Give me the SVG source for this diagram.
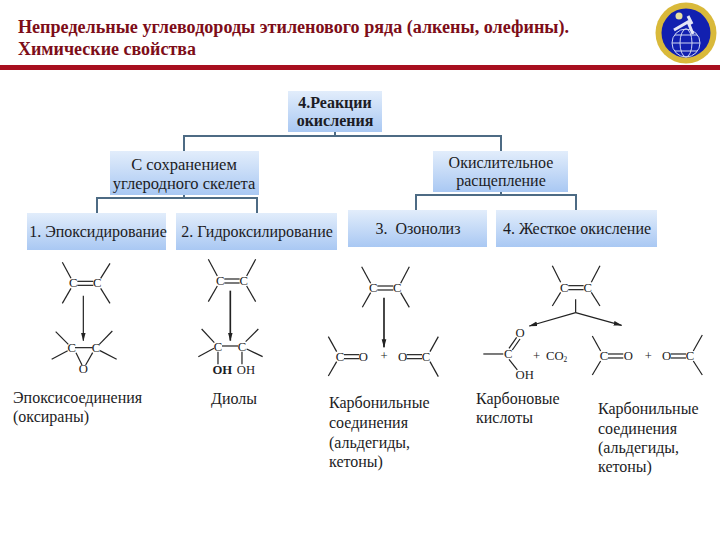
<svg xmlns="http://www.w3.org/2000/svg" width="720" height="540" viewBox="0 0 720 540">
<style>
text{font-family:"Liberation Serif","Times New Roman",serif;fill:#1c1c24}
.t{font-size:18px;font-weight:bold;fill:#7d0d18}
.b{fill:url(#g)}
.c{font-size:16px;text-anchor:middle}
.l{font-size:16px}
.m line{stroke:#222;stroke-width:3.6}
.m text{font-size:38px;text-anchor:middle}
.conn path{fill:none;stroke:#4d6b84;stroke-width:2}
</style>
<defs>
<linearGradient id="g" x1="0" y1="0" x2="0" y2="1"><stop offset="0" stop-color="#e2edfb"/><stop offset="1" stop-color="#a9c8f3"/></linearGradient>
<marker id="a" markerUnits="userSpaceOnUse" markerWidth="26" markerHeight="16" refX="24" refY="8" orient="auto"><path d="M0 1L26 8L0 15Z" fill="#222"/></marker>
</defs>
<rect width="720" height="540" fill="#fff"/>
<g id="header">
<text class="t" x="18" y="33" textLength="551" lengthAdjust="spacingAndGlyphs">Непредельные углеводороды этиленового ряда (алкены, олефины).</text>
<text class="t" x="18" y="55" textLength="178" lengthAdjust="spacingAndGlyphs">Химические свойства</text>
<rect x="0" y="65" width="720" height="5" fill="#a80f1f"/>
</g>
<g id="logo">
<circle cx="686" cy="33" r="30.500" fill="#d9b93a"/>
<circle cx="686" cy="33" r="24.500" fill="#1220b0"/>
<circle cx="686" cy="43" r="14" fill="none" stroke="#cfd6f2" stroke-width="1"/>
<ellipse cx="686" cy="43" rx="6" ry="14" fill="none" stroke="#cfd6f2" stroke-width="1"/>
<path d="M672 43H700M675 35H697M675 51H697" fill="none" stroke="#cfd6f2" stroke-width="1"/>
<path d="M674 30L688 22L693 34M688 16L692 24" fill="none" stroke="#e4e6f6" stroke-width="3"/>
<circle cx="679" cy="16" r="3.500" fill="#e8e0a0"/>
</g>
<g class="conn">
<path d="M335 132V136M184 151V136H501V151"/>
<path d="M184 195V198M97 213V198H257V213"/>
<path d="M501 192V195M416 210V195H576V210"/>
</g>
<g id="root"><rect class="b" x="288" y="91" width="94" height="41"/><text class="c" x="335" y="108" font-weight="bold">4.Реакции</text><text class="c" x="335" y="126" font-weight="bold">окисления</text></g>
<g id="keep"><rect class="b" x="110" y="151" width="149" height="44"/><text class="c" x="184" y="170" style="font-size:16.500px">С сохранением</text><text class="c" x="184" y="189" style="font-size:16.500px">углеродного скелета</text></g>
<g id="cleave"><rect class="b" x="433" y="151" width="135" height="41"/><text class="c" x="501" y="168">Окислительное</text><text class="c" x="501" y="186">расщепление</text></g>
<g id="n1"><rect class="b" x="27" y="213" width="139" height="37"/><text class="c" x="98" y="237">1. Эпоксидирование</text></g>
<g id="n2"><rect class="b" x="176" y="213" width="161" height="37"/><text class="c" x="257" y="237">2. Гидроксилирование</text></g>
<g id="n3"><rect class="b" x="348" y="210" width="139" height="37"/><text class="c" x="418" y="234" xml:space="preserve">3.  Озонолиз</text></g>
<g id="n4"><rect class="b" x="496" y="210" width="161" height="37"/><text class="c" x="577" y="234">4. Жесткое окисление</text></g>

<g id="mol-left" class="m" transform="translate(20 250) scale(.3333)">
<text x="160" y="112">C</text><text x="232" y="112">C</text>
<line x1="172" y1="94" x2="220" y2="94"/><line x1="172" y1="106" x2="220" y2="106"/>
<line x1="127" y1="37" x2="153" y2="85"/><line x1="270" y1="40" x2="242" y2="85"/><line x1="127" y1="160" x2="153" y2="115"/><line x1="270" y1="160" x2="242" y2="115"/>
<line x1="190" y1="137" x2="190" y2="272" marker-end="url(#a)"/>
<text x="155" y="307">C</text><text x="228" y="307">C</text><text x="190" y="370">O</text>
<line x1="165" y1="293" x2="218" y2="293"/><line x1="107" y1="245" x2="145" y2="283"/><line x1="277" y1="243" x2="238" y2="283"/><line x1="95" y1="328" x2="143" y2="302"/><line x1="290" y1="328" x2="240" y2="302"/><line x1="168" y1="308" x2="186" y2="345"/><line x1="218" y1="308" x2="197" y2="345"/>
<text x="601" y="105">C</text><text x="671" y="105">C</text>
<line x1="613" y1="87" x2="659" y2="87"/><line x1="613" y1="99" x2="659" y2="99"/>
<line x1="565" y1="28" x2="592" y2="78"/><line x1="707" y1="28" x2="680" y2="78"/><line x1="565" y1="155" x2="592" y2="108"/><line x1="707" y1="155" x2="680" y2="108"/>
<line x1="631" y1="122" x2="631" y2="272" style="stroke-width:5" marker-end="url(#a)"/>
<text x="594" y="302">C</text><text x="666" y="302">C</text>
<line x1="606" y1="288" x2="654" y2="288"/><line x1="545" y1="237" x2="583" y2="278"/><line x1="715" y1="237" x2="677" y2="275"/><line x1="535" y1="320" x2="582" y2="295"/><line x1="728" y1="320" x2="680" y2="297"/><line x1="594" y1="305" x2="594" y2="343"/><line x1="666" y1="305" x2="666" y2="343"/>
<text x="607" y="371" font-weight="bold">OH</text><text x="678" y="371">OH</text>
</g>
<g id="mol-right" class="m" transform="translate(320 250) scale(.3333)">
<text x="160" y="127">C</text><text x="232" y="127">C</text>
<line x1="172" y1="108" x2="220" y2="108"/><line x1="172" y1="120" x2="220" y2="120"/>
<line x1="125" y1="50" x2="152" y2="100"/><line x1="268" y1="50" x2="242" y2="100"/><line x1="127" y1="172" x2="152" y2="128"/><line x1="268" y1="172" x2="242" y2="128"/>
<line x1="192" y1="143" x2="192" y2="292" style="stroke-width:5" marker-end="url(#a)"/>
<text x="60" y="332">C</text><text x="130" y="332">O</text>
<line x1="72" y1="314" x2="118" y2="314"/><line x1="72" y1="326" x2="118" y2="326"/><line x1="25" y1="260" x2="50" y2="305"/><line x1="25" y1="378" x2="50" y2="335"/>
<text x="192" y="331">+</text>
<text x="248" y="332">O</text><text x="318" y="332">C</text>
<line x1="260" y1="314" x2="306" y2="314"/><line x1="260" y1="326" x2="306" y2="326"/><line x1="355" y1="260" x2="330" y2="305"/><line x1="355" y1="380" x2="330" y2="335"/>
<text x="733" y="125">C</text><text x="803" y="125">C</text>
<line x1="745" y1="107" x2="791" y2="107"/><line x1="745" y1="119" x2="791" y2="119"/>
<line x1="697" y1="47" x2="722" y2="97"/><line x1="840" y1="47" x2="814" y2="97"/><line x1="697" y1="168" x2="722" y2="127"/><line x1="840" y1="168" x2="814" y2="127"/>
<line x1="767" y1="148" x2="767" y2="188"/><line x1="767" y1="188" x2="628" y2="228" marker-end="url(#a)"/><line x1="767" y1="188" x2="905" y2="226" marker-end="url(#a)"/>
<text x="565" y="324">C</text><text x="600" y="262">O</text><text x="614" y="387">OH</text>
<line x1="490" y1="312" x2="550" y2="312"/><line x1="567" y1="295" x2="590" y2="262"/><line x1="577" y1="300" x2="600" y2="267"/><line x1="567" y1="328" x2="592" y2="360"/>
<text x="650" y="329">+</text><text x="678" y="329" style="text-anchor:start">CO<tspan font-size="22" dy="6">2</tspan></text>
<text x="852" y="330">C</text><text x="925" y="330">O</text>
<line x1="864" y1="312" x2="910" y2="312"/><line x1="864" y1="324" x2="910" y2="324"/><line x1="817" y1="258" x2="842" y2="303"/><line x1="817" y1="375" x2="842" y2="333"/>
<text x="985" y="329">+</text>
<text x="1040" y="330">O</text><text x="1110" y="330">C</text>
<line x1="1052" y1="312" x2="1098" y2="312"/><line x1="1052" y1="324" x2="1098" y2="324"/><line x1="1147" y1="255" x2="1120" y2="303"/><line x1="1147" y1="375" x2="1120" y2="333"/>
</g>
<g id="labels">
<text class="l" x="13" y="403">Эпоксисоединения</text><text class="l" x="13" y="422">(оксираны)</text>
<text class="l" x="211" y="404">Диолы</text>
<text class="l" x="329" y="408">Карбонильные</text><text class="l" x="329" y="428">соединения</text><text class="l" x="329" y="448">(альдегиды,</text><text class="l" x="329" y="467">кетоны)</text>
<text class="l" x="476" y="404">Карбоновые</text><text class="l" x="476" y="423">кислоты</text>
<text class="l" x="598" y="414">Карбонильные</text><text class="l" x="598" y="434">соединения</text><text class="l" x="598" y="453">(альдегиды,</text><text class="l" x="598" y="472">кетоны)</text>
</g>
</svg>
